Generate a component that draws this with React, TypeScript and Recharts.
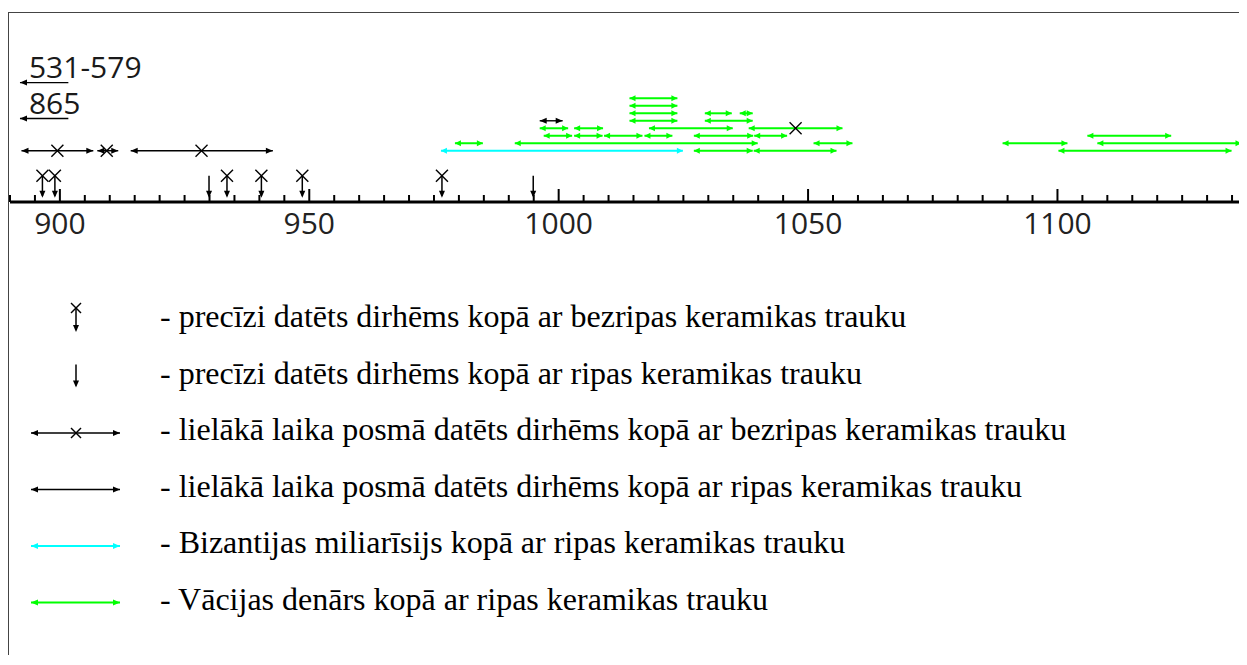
import React from "react";
import { Legend, Scatter, ScatterChart, XAxis, YAxis } from "recharts";

const AXIS_FONT = "'Open Sans', 'DejaVu Sans', sans-serif";
const LEGEND_FONT = "'Liberation Serif', 'Times New Roman', serif";

const GREEN = "#00ff00";
const CYAN = "#00ffff";
const BLACK = "#000000";

// axis
const labelledYears = [900, 950, 1000, 1050, 1100];
const tickYears: number[] = [];
for (let y = 890; y <= 1135; y += 5) tickYears.push(y);

// precisely dated dirhams (year)
const exactBezripasYears = [896.5, 899.0, 933.5, 940.4, 948.6, 976.6];
const exactRipasYears = [929.9, 994.9];

// [from, to, row]
const blackIntervals = [
  [892.3, 906.7, 1],
  [907.5, 911.7, 1],
  [914.2, 942.7, 1],
  [996.2, 1000.8, 5],
];
// [year, row]
const crossMarks = [
  [899.5, 1],
  [909.4, 1],
  [928.4, 1],
  [1047.5, 4],
];
const cyanIntervals = [[976.4, 1024.9, 1]];
const greenIntervals = [
  [1014.2, 1023.8, 8],
  [1014.2, 1023.8, 7],
  [1014.2, 1023.8, 6],
  [1029.3, 1034.7, 6],
  [1036.3, 1038.9, 6],
  [1014.2, 1023.8, 5],
  [1029.3, 1038.9, 5],
  [996.2, 1001.9, 4],
  [1003.1, 1008.9, 4],
  [1018.1, 1034.9, 4],
  [1038.1, 1056.9, 4],
  [997.0, 1002.7, 3],
  [1003.1, 1008.8, 3],
  [1009.1, 1016.8, 3],
  [1017.2, 1022.8, 3],
  [1027.1, 1039.0, 3],
  [1039.2, 1045.8, 3],
  [1106.0, 1122.8, 3],
  [979.2, 984.8, 2],
  [991.2, 1039.9, 2],
  [1051.1, 1058.9, 2],
  [1089.0, 1102.0, 2],
  [1108.0, 1136.9, 2],
  [1027.1, 1038.9, 1],
  [1039.1, 1055.7, 1],
  [1100.2, 1134.9, 1],
];

// finds dated before the axis start
const earlyLabels = ["531-579", "865"];
const earlyRows = [10.1, 5.3];
const earlySpan = [892.0, 901.7];

const legendLabels = [
  "- precīzi datēts dirhēms kopā ar bezripas keramikas trauku",
  "- precīzi datēts dirhēms kopā ar ripas keramikas trauku",
  "- lielākā laika posmā datēts dirhēms kopā ar bezripas keramikas trauku",
  "- lielākā laika posmā datēts dirhēms kopā ar ripas keramikas trauku",
  "- Bizantijas  miliarīsijs kopā ar ripas keramikas trauku",
  "- Vācijas denārs kopā ar ripas keramikas trauku",
];

const head = (cx: number, cy: number, dir: string, color: string, len: number, half: number) => {
  let pts = "";
  if (dir === "l") pts = `${cx},${cy} ${cx + len},${cy - half} ${cx + len},${cy + half}`;
  else if (dir === "r") pts = `${cx},${cy} ${cx - len},${cy - half} ${cx - len},${cy + half}`;
  else pts = `${cx},${cy} ${cx - half},${cy - len} ${cx + half},${cy - len}`;
  return <polygon points={pts} fill={color} />;
};

const cross = (cx: number, cy: number, s: number) => (
  <g stroke={BLACK} strokeWidth={1.4}>
    <line x1={cx - s} y1={cy - s} x2={cx + s} y2={cy + s} />
    <line x1={cx - s} y1={cy + s} x2={cx + s} y2={cy - s} />
  </g>
);

const arrowShape = (color: string, len: number, half: number) => (props: any) => {
  const { cx, cy, payload } = props;
  if (payload.head === "none") return <g />;
  return head(cx, cy, payload.head, color, len, half);
};

const crossShape = (props: any) => cross(props.cx, props.cy, 6);

const dropShape = (withCross: boolean) => (props: any) => {
  const { cx, cy } = props;
  return (
    <g>
      <line x1={cx} y1={cy} x2={cx} y2={cy + 20} stroke={BLACK} strokeWidth={1.5} />
      {head(cx, cy + 22, "d", BLACK, 7, 3)}
      {withCross && cross(cx, cy, 6)}
    </g>
  );
};

const textShape = (props: any) => (
  <text
    x={props.cx + 9}
    y={props.cy - 5}
    fontSize={30}
    fontFamily={AXIS_FONT}
    fill="#1a1a1a"
  >
    {props.payload.label}
  </text>
);

const YearTick = (props: any) => {
  const { x, y, payload } = props;
  const major = labelledYears.includes(payload.value);
  return (
    <g>
      <line x1={x} x2={x} y1={y} y2={y - (major ? 13 : 7)} stroke={BLACK} strokeWidth={2} />
      {major && (
        <text x={x} y={y + 32} textAnchor="middle" fontSize={30} fontFamily={AXIS_FONT} fill="#222">
          {payload.value}
        </text>
      )}
    </g>
  );
};

const renderLegend = () => (
  <svg width={1200} height={340}>
    {legendLabels.map((label, i) => {
      const cy = 30 + i * 56.5;
      let sym: React.ReactNode = null;
      if (i === 0) {
        sym = (
          <g>
            <line x1={67} y1={cy - 12} x2={67} y2={cy + 10} stroke={BLACK} strokeWidth={1.5} />
            {head(67, cy + 12, "d", BLACK, 7, 3)}
            {cross(67, cy - 12, 5)}
          </g>
        );
      } else if (i === 1) {
        sym = (
          <g>
            <line x1={67} y1={cy - 12} x2={67} y2={cy + 9} stroke={BLACK} strokeWidth={1.5} />
            {head(67, cy + 11, "d", BLACK, 7, 3)}
          </g>
        );
      } else {
        const color = i === 4 ? CYAN : i === 5 ? GREEN : BLACK;
        sym = (
          <g>
            <line x1={22} y1={cy} x2={111} y2={cy} stroke={color} strokeWidth={i > 3 ? 2 : 1.4} />
            {head(22, cy, "l", color, 7, 3)}
            {head(111, cy, "r", color, 7, 3)}
            {i === 2 && cross(67, cy, 5)}
          </g>
        );
      }
      return (
        <g key={i}>
          {sym}
          <text x={151} y={cy + 7} fontSize={32} fontFamily={LEGEND_FONT} fill={BLACK}>
            {label}
          </text>
        </g>
      );
    })}
  </svg>
);

const intervalSeries = (list: number[][], color: string, width: number, len: number, half: number, key: string) =>
  list.map((iv, i) => (
    <Scatter
      key={`${key}${i}`}
      data={[
        { x: iv[0], y: iv[2], head: "l" },
        { x: iv[1], y: iv[2], head: "r" },
      ]}
      fill={color}
      line={{ stroke: color, strokeWidth: width }}
      shape={arrowShape(color, len, half)}
      legendType="none"
      isAnimationActive={false}
    />
  ));

const App = () => {
  return (
    <div style={{ paddingTop: 4 }}>
      <style>{"body{overflow:hidden}"}</style>
      <div
        style={{
          width: 1238,
          height: 642,
          borderTop: "1px solid #444",
          borderLeft: "1px solid #444",
        }}
      >
        <ScatterChart width={1238} height={640} margin={{ top: 0, right: 0, bottom: 400, left: 1 }}>
          <XAxis
            type="number"
            dataKey="x"
            domain={[890, 1138]}
            ticks={tickYears}
            interval={0}
            tick={<YearTick />}
            tickLine={false}
            tickSize={0}
            tickMargin={0}
            axisLine={{ stroke: BLACK, strokeWidth: 3 }}
            height={51}
            allowDataOverflow
          />
          <YAxis type="number" dataKey="y" domain={[-5.85, 19.4]} hide allowDataOverflow />
          <Legend
            layout="vertical"
            align="center"
            verticalAlign="middle"
            content={renderLegend}
            wrapperStyle={{ left: 0, top: 277, width: 1200 }}
          />
          {intervalSeries(greenIntervals, GREEN, 2, 6, 3, "g")}
          {intervalSeries(cyanIntervals, CYAN, 2, 6, 3, "c")}
          {intervalSeries(blackIntervals, BLACK, 1.4, 7, 3, "b")}
          {earlyRows.map((row, i) => (
            <Scatter
              key={`e${i}`}
              data={[
                { x: earlySpan[0], y: row, head: "l" },
                { x: earlySpan[1], y: row, head: "none" },
              ]}
              fill={BLACK}
              line={{ stroke: BLACK, strokeWidth: 1.4 }}
              shape={arrowShape(BLACK, 7, 3)}
              legendType="none"
              isAnimationActive={false}
            />
          ))}
          <Scatter
            data={earlyRows.map((row, i) => ({ x: earlySpan[0], y: row, label: earlyLabels[i] }))}
            shape={textShape}
            legendType="none"
            isAnimationActive={false}
          />
          <Scatter
            data={crossMarks.map((c) => ({ x: c[0], y: c[1] }))}
            shape={crossShape}
            legendType="none"
            isAnimationActive={false}
          />
          <Scatter
            data={exactBezripasYears.map((x) => ({ x, y: -2.35 }))}
            shape={dropShape(true)}
            legendType="none"
            isAnimationActive={false}
          />
          <Scatter
            data={exactRipasYears.map((x) => ({ x, y: -2.35 }))}
            shape={dropShape(false)}
            legendType="none"
            isAnimationActive={false}
          />
        </ScatterChart>
      </div>
    </div>
  );
};

export default App;
